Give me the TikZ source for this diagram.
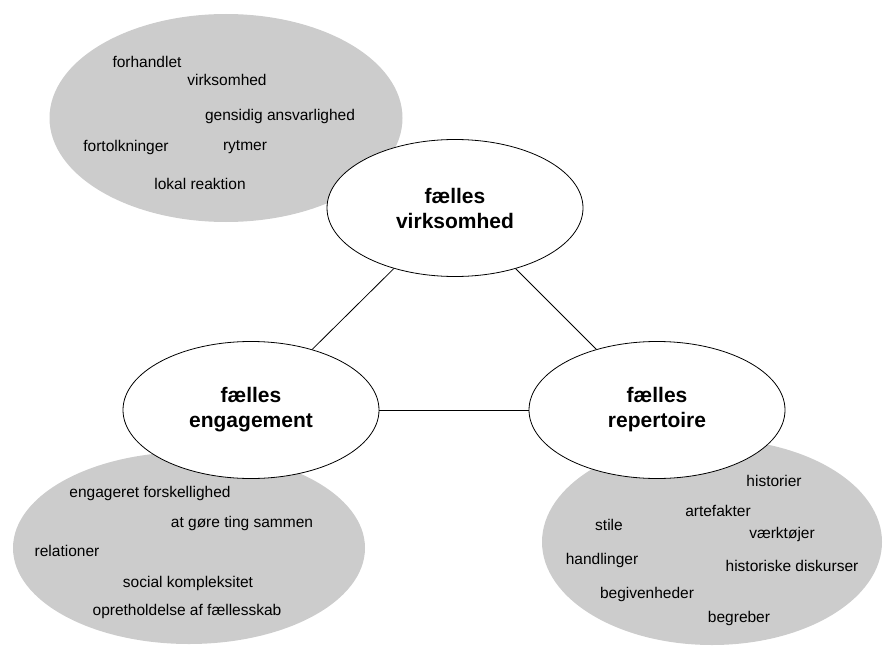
\documentclass[tikz,border=0pt]{standalone}
\usepackage{fontspec}
\setmainfont{Liberation Sans}
\usepackage{xcolor}
\usepackage{tikz}
\usetikzlibrary{shapes.geometric,positioning,calc}
\definecolor{CoPgray}{RGB}{204,204,204}
\tikzstyle{cloud}  = [ellipse, fill=CoPgray, draw=none, inner sep=0pt]
\tikzstyle{core}   = [ellipse, fill=white, draw=black, line width=0.8pt, inner sep=0pt,
                      minimum width=256pt, minimum height=137pt,
                      align=center, font=\fontsize{21}{25}\selectfont\bfseries]
\tikzstyle{item}   = [inner sep=0pt, font=\fontsize{15.5}{18}\selectfont]

\begin{document}
\begin{tikzpicture}[x=1pt, y=-1pt]
  \useasboundingbox (0,0) rectangle (885,650);
  % grey clouds behind the three circles
  \node[cloud, minimum width=353pt, minimum height=208pt] (cV) at (226,118) {};
  \node[cloud, minimum width=352pt, minimum height=192pt] (cE) at (189,548) {};
  \node[cloud, minimum width=340pt, minimum height=206pt] (cR) at (712,542) {};

  % virksomhed
  \node[item] (v1) at (147,62)  {forhandlet};
  \node[item] (v2) at (227,80)  {virksomhed};
  \node[item] (v3) at (280,116) {gensidig ansvarlighed};
  \node[item] (v4) at (126,147) {fortolkninger};
  \node[item] (v5) at (245,147) {rytmer};
  \node[item] (v6) at (200,184) {lokal reaktion};

  % engagement
  \node[item] (e1) at (150,493) {engageret forskellighed};
  \node[item] (e2) at (242,523) {at gøre ting sammen};
  \node[item] (e3) at (67,551)  {relationer};
  \node[item] (e4) at (188,583) {social kompleksitet};
  \node[item] (e5) at (187,611) {opretholdelse af fællesskab};

  % repertoire
  \node[item] (r1) at (774,481) {historier};
  \node[item] (r2) at (718,511) {artefakter};
  \node[item] (r3) at (609,525) {stile};
  \node[item] (r4) at (782,534) {værktøjer};
  \node[item] (r5) at (602,560) {handlinger};
  \node[item] (r6) at (792,566) {historiske diskurser};
  \node[item] (r7) at (647,594) {begivenheder};
  \node[item] (r8) at (739,618) {begreber};

  % the three circles
  \node[core] (virk) at (455,208) {fælles\\virksomhed};
  \node[core] (eng)  at (251,410) {fælles\\engagement};
  \node[core] (rep)  at (657,410) {fælles\\repertoire};

  \draw[line width=0.8pt] (virk) -- (eng);
  \draw[line width=0.8pt] (virk) -- (rep);
  \draw[line width=0.8pt] (eng)  -- (rep);
\end{tikzpicture}
\end{document}
